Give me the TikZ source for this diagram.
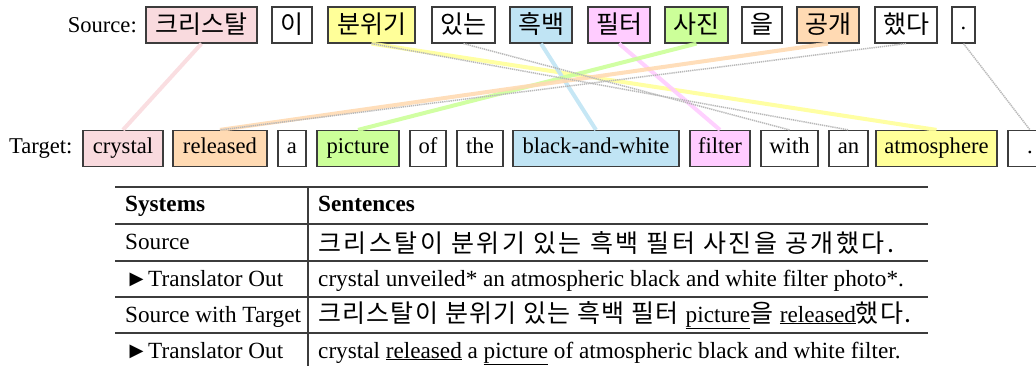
\documentclass[tikz,border=0pt]{standalone}
\usepackage{fontspec}
\setmainfont{Liberation Serif}
\newfontfamily\kr{Noto Sans CJK KR}
\newfontfamily\krs[LetterSpace=10]{Noto Sans CJK KR}
\newfontfamily\krm[LetterSpace=5]{Noto Sans CJK KR}
\definecolor{cpink}{RGB}{249,218,222}
\definecolor{cyel}{RGB}{255,255,153}
\definecolor{cblue}{RGB}{192,228,244}
\definecolor{cmag}{RGB}{255,204,255}
\definecolor{cgreen}{RGB}{204,255,153}
\definecolor{corange}{RGB}{255,218,179}
\definecolor{bord}{RGB}{60,60,60}
\definecolor{dotc}{RGB}{185,185,185}
\tikzset{
  wbox/.style={draw=bord, line width=1.2pt, minimum height=36pt, inner sep=0pt,
    text height=15pt, text depth=5pt, font=\fontsize{22.6}{26}\selectfont},
  kbox/.style={wbox, text height=20pt, text depth=2pt, font=\fontsize{25}{28}\kr},
  lbl/.style={inner sep=0pt, font=\fontsize{22.6}{26}\selectfont},
  align/.style={line width=4pt, opacity=0.9},
  weak/.style={draw=dotc, line width=1.5pt, dash pattern=on 1.3pt off 0.8pt},
  rule/.style={draw=bord, line width=1.3pt},
  cell/.style={anchor=west, inner sep=0pt, text height=15pt, text depth=5pt, font=\fontsize{23.2}{26}\selectfont},
  kcell/.style={cell, text height=19pt, text depth=2pt, font=\fontsize{25}{28}\krs},
}
\newcommand{\kt}[1]{{\fontsize{25}{28}\krm #1}}
\begin{document}
\begin{tikzpicture}[x=1pt,y=-1pt]
\useasboundingbox (0,0) rectangle (1036,366);
% source row
\node[lbl, anchor=east] (srclbl) at (137,25) {Source:};
\node[kbox, fill=cpink,  minimum width=111pt] (s1) at (201.5,25) {크리스탈};
\node[kbox, fill=white,  minimum width=40pt]  (s2) at (292,25) {이};
\node[kbox, fill=cyel,   minimum width=87pt]  (s3) at (371.5,25) {분위기};
\node[kbox, fill=white,  minimum width=63pt]  (s4) at (463.5,25) {있는};
\node[kbox, fill=cblue,  minimum width=62pt]  (s5) at (541,25) {흑백};
\node[kbox, fill=cmag,   minimum width=62pt]  (s6) at (619,25) {필터};
\node[kbox, fill=cgreen, minimum width=63pt]  (s7) at (696.5,25) {사진};
\node[kbox, fill=white,  minimum width=40pt]  (s8) at (762,25) {을};
\node[kbox, fill=corange,minimum width=62pt]  (s9) at (828,25) {공개};
\node[kbox, fill=white,  minimum width=62pt]  (s10) at (906,25) {했다};
\node[wbox, fill=white,  minimum width=23pt]  (s11) at (963.5,25) {.};
% target row
\node[lbl, anchor=west] (tgtlbl) at (9,148.5) {Target:};
\node[wbox, fill=cpink,  minimum width=80pt]  (t1) at (123,148.5) {crystal};
\node[wbox, fill=corange,minimum width=94pt]  (t2) at (220,148.5) {released};
\node[wbox, fill=white,  minimum width=28pt]  (t3) at (292,148.5) {a};
\node[wbox, fill=cgreen, minimum width=82pt]  (t4) at (358,148.5) {picture};
\node[wbox, fill=white,  minimum width=36pt]  (t5) at (428,148.5) {of};
\node[wbox, fill=white,  minimum width=46pt]  (t6) at (480,148.5) {the};
\node[wbox, fill=cblue,  minimum width=166pt] (t7) at (596,148.5) {black-and-white};
\node[wbox, fill=cmag,   minimum width=60pt]  (t8) at (720,148.5) {filter};
\node[wbox, fill=white,  minimum width=57pt]  (t9) at (789.5,148.5) {with};
\node[wbox, fill=white,  minimum width=39pt]  (t10) at (848.5,148.5) {an};
\node[wbox, fill=cyel,   minimum width=121pt] (t11) at (936.5,148.5) {atmosphere};
\node[wbox, fill=white,  minimum width=44pt]  (t12) at (1030,148.5) {.};
% alignments
\draw[align, cpink]   (s1.south) -- (t1.north);
\draw[align, cyel]    (s3.south) -- (t11.north);
\draw[align, cblue]   (s5.south) -- (t7.north);
\draw[align, cmag]    (s6.south) -- (t8.north);
\draw[align, cgreen]  (s7.south) -- (t4.north);
\draw[align, corange] (s9.south) -- (t2.north);
\draw[weak] (s3.south) -- (t10.north);
\draw[weak] (s4.south) -- (t9.north);
\draw[weak] (s10.south) -- (t2.north);
\draw[weak] (s11.south) -- (t12.north);
% table
\coordinate (tl) at (115,187);
\coordinate (tr) at (928,187);
\draw[rule] (tl) -- (tr);
\foreach \yy in {224,261,297,333} \draw[rule] (115,\yy) -- (928,\yy);
\draw[rule] (308,187) -- (308,366);
\node[cell, font=\fontsize{23.2}{26}\bfseries] (h1) at (125,207) {Systems};
\node[cell, font=\fontsize{23.2}{26}\bfseries] (h2) at (318,207) {Sentences};
\node[cell] (r1a) at (125,244) {Source};
\node[kcell] (r1b) at (318,244) {크리스탈이 분위기 있는 흑백 필터 사진을 공개했다.};
\node[cell] (r2a) at (125,281) {►Translator Out};
\node[cell] (r2b) at (318,281) {crystal unveiled* an atmospheric black and white filter photo*.};
\node[cell] (r3a) at (125,317) {Source with Target};
\node[cell] (r3b) at (318,317) {\kt{크리스탈이 분위기 있는 흑백 필터 }\underline{picture}\kt{을 }\underline{released}\kt{했다.}};
\node[cell] (r4a) at (125,353) {►Translator Out};
\node[cell] (r4b) at (318,353) {crystal \underline{released} a \underline{picture} of atmospheric black and white filter.};
\end{tikzpicture}
\end{document}
